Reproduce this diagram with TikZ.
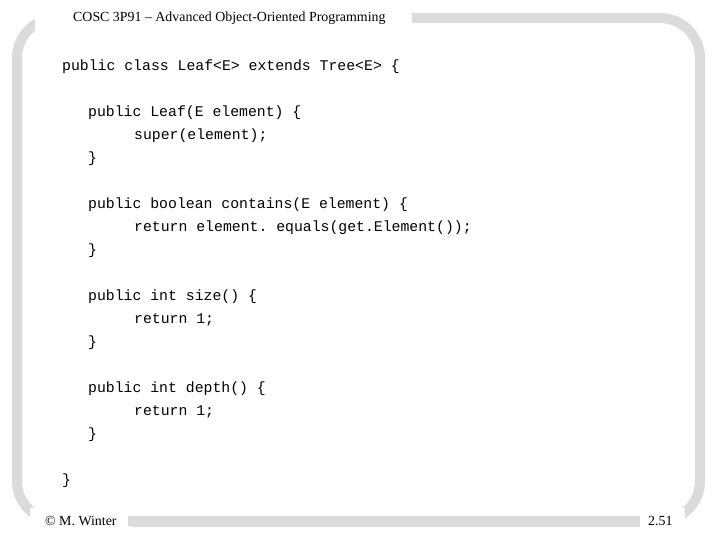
\documentclass[tikz,border=0pt]{standalone}
\usepackage{fontspec}
\setmainfont{Liberation Serif}
\setmonofont{Liberation Mono}
\begin{document}
\begin{tikzpicture}[x=1pt,y=-1pt,
  code/.style={anchor=west,inner sep=0pt,font=\ttfamily\fontsize{14.8}{16}\selectfont},
  lbl/.style={anchor=west,inner sep=0pt,font=\fontsize{13.9}{15}\selectfont},
  wh/.style={fill=white,draw=none}]
\useasboundingbox (0,0) rectangle (720,540);
\fill[white] (0,0) rectangle (720,540);
\draw[line width=10pt,gray!28,rounded corners=40pt] (17,18) rectangle (700,521);
\fill[wh] (35,5) rectangle (412,31);
\fill[wh] (30,508) rectangle (128,535);
\fill[wh] (640,508) rectangle (685,535);
\fill[gray!28] (132,516) rectangle (640,527);
\node[lbl] (hdr) at (73,18) {COSC 3P91 -- Advanced Object-Oriented Programming};
\node[lbl] (cr) at (45,521) {\symbol{"00A9} M. Winter};
\node[lbl] (pg) at (648,521) {2.51};
\node[code] (l1) at (62,67) {public class Leaf<E> extends Tree<E> \{};
\node[code] (l2) at (88,113) {public Leaf(E element) \{};
\node[code] (l3) at (134,136) {super(element);};
\node[code] (l4) at (88,159) {\}};
\node[code] (l5) at (88,205) {public boolean contains(E element) \{};
\node[code] (l6) at (134,228) {return element. equals(get.Element());};
\node[code] (l7) at (88,251) {\}};
\node[code] (l8) at (88,297) {public int size() \{};
\node[code] (l9) at (134,320) {return 1;};
\node[code] (l10) at (88,343) {\}};
\node[code] (l11) at (88,389) {public int depth() \{};
\node[code] (l12) at (134,412) {return 1;};
\node[code] (l13) at (88,435) {\}};
\node[code] (l14) at (62,481) {\}};
\end{tikzpicture}
\end{document}
